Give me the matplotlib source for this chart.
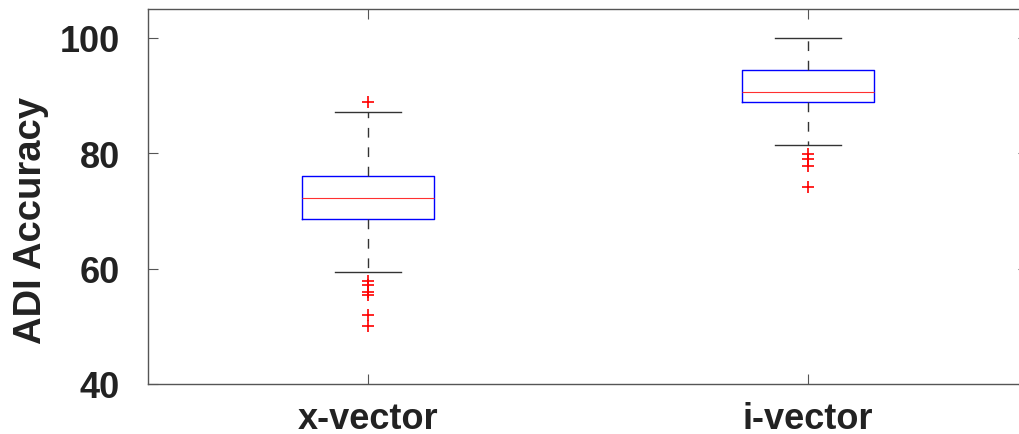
import matplotlib
matplotlib.use("Agg")
import matplotlib.pyplot as plt

categories = ["x-vector", "i-vector"]
medians = [72.3, 90.7]
q1 = [68.6, 88.9]
q3 = [76.0, 94.4]
whisker_low = [59.4, 81.4]
whisker_high = [87.1, 100.0]
outliers = [
    [88.8, 57.8, 57.2, 56.0, 55.4, 52.0, 50.0],
    [79.8, 79.0, 77.8, 74.1],
]
yticks = [40, 60, 80, 100]

plt.rcParams['font.family'] = ['Liberation Sans', 'DejaVu Sans']

fig = plt.figure(figsize=(10.2, 4.35), dpi=100)
ax = fig.add_axes([148/1020, 50/435, 880/1020, 375/435])

stats = []
for i, c in enumerate(categories):
    stats.append(dict(label=c, med=medians[i], q1=q1[i], q3=q3[i],
                      whislo=whisker_low[i], whishi=whisker_high[i],
                      fliers=outliers[i]))

ax.bxp(stats, positions=[1, 2], widths=0.3, showfliers=True,
       boxprops=dict(color='#0000ff', linewidth=1.0),
       medianprops=dict(color='#ff3030', linewidth=0.8),
       whiskerprops=dict(color='#333333', linewidth=1.0, linestyle=(0, (7, 7))),
       capprops=dict(color='#333333', linewidth=1.0),
       capwidths=0.15,
       flierprops=dict(marker='+', markeredgecolor='#ff0000', markersize=8,
                       markeredgewidth=1.2, linestyle='none'))

ax.set_xlim(0.5, 2.5)
ax.set_ylim(40, 105)
ax.set_yticks(yticks)
ax.set_xticks([1, 2])
ax.set_xticklabels(categories)
ax.tick_params(direction='in', length=7, width=0.8, color='#555555',
               top=True, right=True, labelsize=26)
ax.tick_params(axis='y', pad=20)
ax.tick_params(axis='x', pad=12)
for lab in ax.get_xticklabels() + ax.get_yticklabels():
    lab.set_fontweight('bold')
    lab.set_color('#222222')
ax.set_ylabel('ADI Accuracy', fontsize=27.5, fontweight='bold', color='#222222')
ax.yaxis.set_label_coords(-0.112, 0.44)
for s in ax.spines.values():
    s.set_color('#555555')
    s.set_linewidth(1.0)

fig.savefig('out.png', dpi=100)
